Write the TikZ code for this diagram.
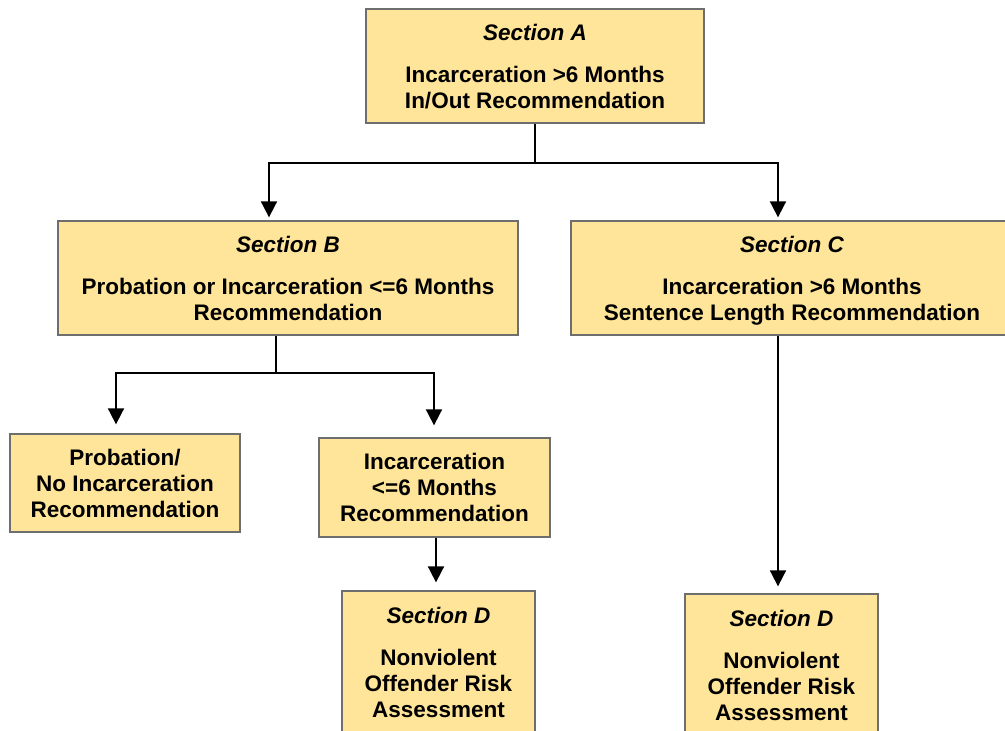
\documentclass[tikz,border=0pt]{standalone}
\usepackage{fontspec}
\setmainfont{Liberation Sans}
\usetikzlibrary{arrows.meta}
\definecolor{boxfill}{RGB}{255,229,153}
\definecolor{boxline}{RGB}{110,110,110}
\tikzset{
  box/.style={draw=boxline, line width=1.3pt, fill=boxfill, align=center, inner sep=0pt,
    text depth=0pt, font=\fontsize{22.5}{26}\selectfont\bfseries},
  conn/.style={draw=black, line width=1.8pt},
  arr/.style={conn, -{Triangle[width=16pt,length=16pt]}}
}
\newcommand{\secname}[1]{{\itshape #1}\\[16pt]}
\begin{document}
\begin{tikzpicture}[x=1pt,y=-1pt]
\useasboundingbox (0,0) rectangle (1005,731);
\clip (0,0) rectangle (1005,731);
\node[box, minimum width=338pt, minimum height=114pt] (A) at (535,66)
  {\secname{Section A}Incarceration >6 Months\\In/Out Recommendation};
\node[box, minimum width=460pt, minimum height=114pt] (B) at (288,278)
  {\secname{Section B}Probation or Incarceration <=6 Months\\Recommendation};
\node[box, minimum width=442pt, minimum height=114pt] (C) at (792,278)
  {\secname{Section C}Incarceration >6 Months\\Sentence Length Recommendation};
\node[box, minimum width=230pt, minimum height=98pt] (P) at (125,483)
  {Probation/\\No Incarceration\\Recommendation};
\node[box, minimum width=231pt, minimum height=99pt] (I) at (434.5,487.5)
  {Incarceration\\<=6 Months\\Recommendation};
\node[box, minimum width=193pt, minimum height=142pt] (D1) at (438.5,662)
  {\secname{Section D}Nonviolent\\Offender Risk\\Assessment};
\node[box, minimum width=193pt, minimum height=142pt] (D2) at (781.5,665)
  {\secname{Section D}Nonviolent\\Offender Risk\\Assessment};
\coordinate (jA) at (535,163);
\coordinate (jB) at (276,373);
\draw[conn] (A.south) -- (jA);
\draw[arr] (jA) -| ([xshift=-19pt,yshift=3pt]B.north);
\draw[arr] (jA) -| ([xshift=-14pt,yshift=3pt]C.north);
\draw[conn] (B.south -| jB) -- (jB);
\draw[arr] (jB) -| ([xshift=-9pt,yshift=9pt]P.north);
\draw[arr] (jB) -| ([xshift=-0.5pt,yshift=12pt]I.north);
\draw[arr] ([xshift=1.5pt]I.south) -- ([xshift=-2.5pt,yshift=8pt]D1.north);
\draw[arr] ([xshift=-14pt]C.south) -- ([xshift=-3.5pt,yshift=7pt]D2.north);
\end{tikzpicture}
\end{document}
